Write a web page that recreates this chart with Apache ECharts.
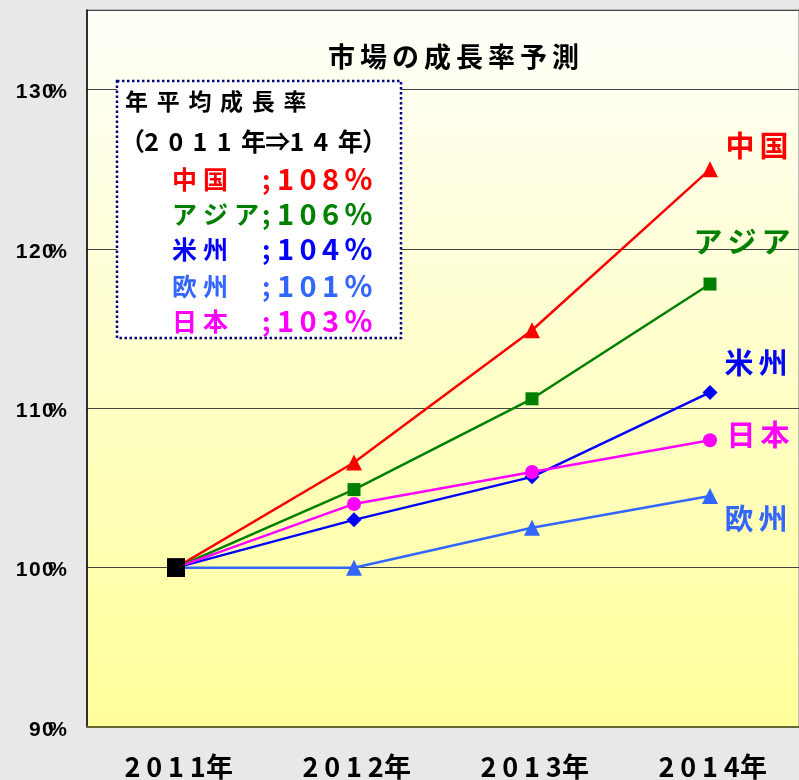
<!DOCTYPE html>
<html>
<head>
<meta charset="utf-8">
<script src="https://cdn.jsdelivr.net/npm/echarts@6/dist/echarts.min.js"></script>
<style>
html, body { margin: 0; padding: 0; background: #e8e8e8; }
#main { width: 799px; height: 780px; }
</style>
</head>
<body>
<div id="main"></div>
<script>
// data
var years = ['2011年', '2012年', '2013年', '2014年'];
var regionNames = ['中国', 'アジア', '米州', '欧州', '日本'];
var growthRates = ['108%', '106%', '104%', '101%', '103%'];
var china = [100, 106.6, 114.9, 125.0];
var asia = [100, 104.9, 110.6, 117.8];
var america = [100, 103.0, 105.7, 111.0];
var europe = [100, 100.0, 102.5, 104.5];
var japan = [100, 104.0, 106.0, 108.0];
var yTicks = [90, 100, 110, 120, 130];
var chartTitle = '市場の成長率予測';
var boxTitle = '年平均成長率';
var boxPeriod = '（2011年⇒14年）';

var FONT = '"Noto Sans CJK JP", "Noto Sans", sans-serif';
var colors = ['#ff0000', '#008000', '#0000ff', '#3366ff', '#ff00ff'];
var symbols = ['triangle', 'rect', 'diamond', 'triangle', 'circle'];
var symbolSizes = [16, 13, 15, 16, 14];
var endOffsets = [[47, -23], [32, -42], [46, -29], [46, 23], [48, -5]];

// each char as its own rich token so the letter pitch matches
function spaced(str, key) {
  return str.split('').map(function (c) { return '{' + key + '|' + c + '}'; }).join('');
}

var chart = echarts.init(document.getElementById('main'));

var allValues = [china, asia, america, europe, japan];
var series = allValues.map(function (vals, i) {
  var data = vals.map(function (v, j) {
    if (j === 0) {
      return { value: v, symbol: 'rect', symbolSize: 18, itemStyle: { color: '#000' } };
    }
    if (j === vals.length - 1) {
      return {
        value: v,
        label: {
          show: true,
          position: 'inside',
          offset: endOffsets[i],
          formatter: spaced(regionNames[i], 'e'),
          rich: { e: { width: 34, fontSize: 29, fontWeight: 'bold', fontFamily: FONT, color: colors[i] } }
        }
      };
    }
    return v;
  });
  return {
    name: regionNames[i],
    type: 'line',
    data: data,
    symbol: symbols[i],
    symbolSize: symbolSizes[i],
    lineStyle: { color: colors[i], width: 2.5 },
    itemStyle: { color: colors[i] },
    z: 3
  };
});

// legend box
var rowY = [179, 214, 249, 286, 321];
var graphic = [
  {
    type: 'rect', z: 50,
    shape: { x: 117, y: 81, width: 284, height: 257 },
    style: { fill: '#fff', stroke: '#000080', lineWidth: 2.5, lineDash: [2.5, 2.5] }
  },
  {
    type: 'text', z: 51,
    style: {
      x: 125, y: 101, verticalAlign: 'middle',
      text: spaced(boxTitle, 'h'),
      rich: { h: { width: 31.7, fontSize: 23, fontWeight: 'bold', fontFamily: FONT, fill: '#000' } }
    }
  },
  {
    type: 'text', z: 51,
    style: {
      x: 120, y: 141, verticalAlign: 'middle',
      text: spaced(boxPeriod, 'p'),
      rich: { p: { width: 24.2, fontSize: 25, fontWeight: 'bold', fontFamily: FONT, fill: '#000' } }
    }
  }
];
regionNames.forEach(function (nm, i) {
  graphic.push({
    type: 'text', z: 51,
    style: {
      x: 172, y: rowY[i], verticalAlign: 'middle',
      text: spaced(nm, 'n'),
      rich: { n: { width: 31, fontSize: 25, fontWeight: 'bold', fontFamily: FONT, fill: colors[i] } }
    }
  });
  graphic.push({
    type: 'text', z: 51,
    style: {
      x: 262, y: rowY[i], verticalAlign: 'middle',
      text: '{s|;}' + spaced(growthRates[i], 'v'),
      rich: {
        s: { width: 15, fontSize: 26, fontWeight: 'bold', fontFamily: FONT, fill: colors[i] },
        v: { width: 22.5, fontSize: 29, fontWeight: 'bold', fontFamily: FONT, fill: colors[i] }
      }
    }
  });
});

chart.setOption({
  animation: false,
  backgroundColor: '#e8e8e8',
  title: {
    text: spaced(chartTitle, 't'),
    left: 323,
    top: 38,
    textStyle: {
      rich: { t: { width: 32, fontSize: 27, fontWeight: 'bold', fontFamily: FONT, color: '#000' } }
    }
  },
  grid: {
    left: 87, right: 0, top: 10, bottom: 53,
    show: true,
    borderWidth: 1.5,
    borderColor: '#aaaaaa',
    backgroundColor: new echarts.graphic.LinearGradient(0, 0, 0, 1, [
      { offset: 0, color: '#fffffa' },
      { offset: 1, color: '#ffff99' }
    ])
  },
  xAxis: {
    type: 'category',
    data: years,
    boundaryGap: true,
    axisLine: { lineStyle: { color: '#666633', width: 2 } },
    axisTick: { show: false },
    axisLabel: {
      margin: 26,
      formatter: function (v) { return spaced(v, 'x'); },
      rich: { x: { width: 21.8, fontSize: 27, fontWeight: 'bold', fontFamily: FONT, color: '#000' } }
    }
  },
  yAxis: {
    type: 'value',
    min: 90,
    max: 135,
    interval: 10,
    axisLine: { show: true, lineStyle: { color: '#000', width: 1.5 } },
    axisTick: { show: false },
    splitLine: { lineStyle: { color: '#444', width: 1 } },
    axisLabel: {
      margin: 20,
      padding: [6, 0, 0, 0],
      formatter: function (v) { return yTicks.indexOf(v) >= 0 ? spaced(v + '%', 'y') : ''; },
      rich: { y: { width: 13.2, fontSize: 21, fontWeight: 'bold', fontFamily: '"Liberation Sans", sans-serif', color: '#000' } }
    }
  },
  graphic: graphic,
  series: series
});
</script>
</body>
</html>
